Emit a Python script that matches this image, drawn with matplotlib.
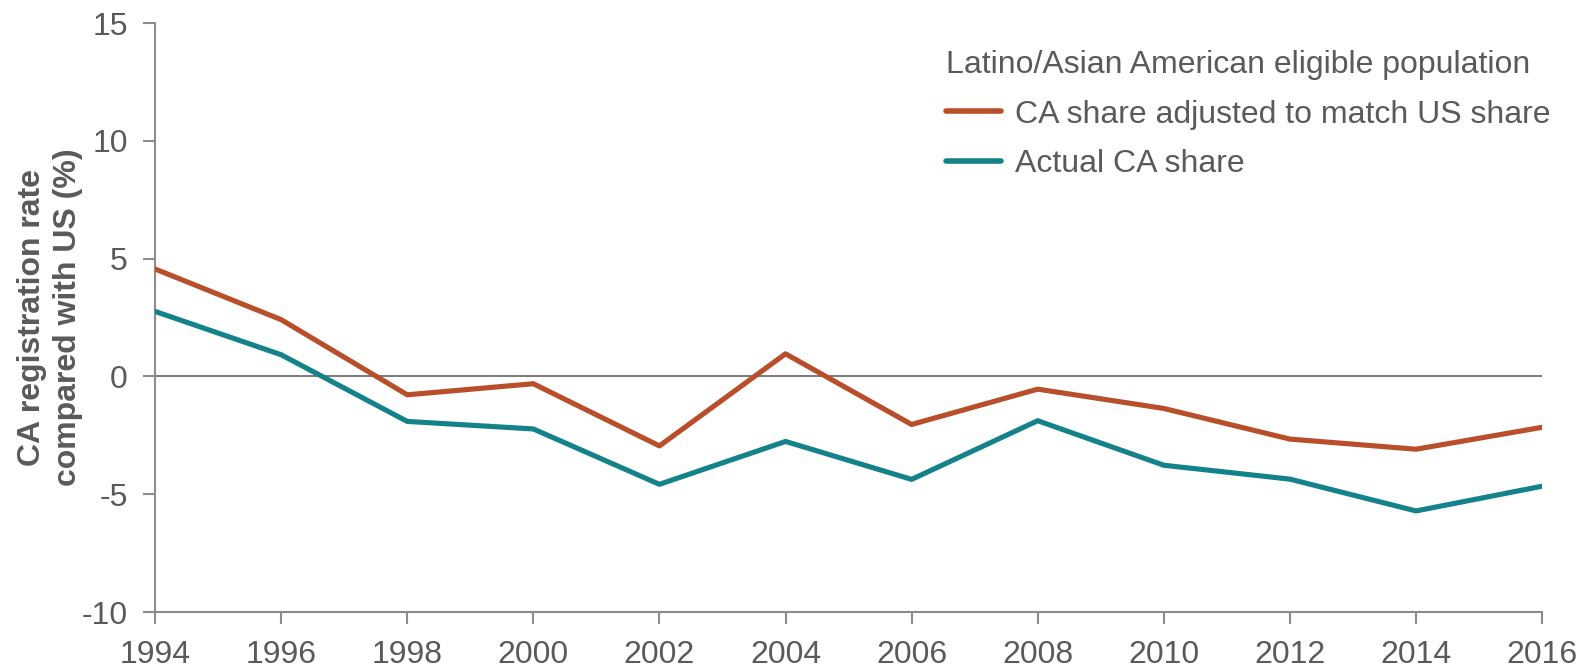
import matplotlib.pyplot as plt
import numpy as np

plt.rcParams['font.family'] = ['Liberation Sans', 'DejaVu Sans']

years = [1994, 1996, 1998, 2000, 2002, 2004, 2006, 2008, 2010, 2012, 2014, 2016]
adjusted = [4.56, 2.41, -0.78, -0.31, -2.95, 0.96, -2.04, -0.54, -1.36, -2.66, -3.09, -2.16]
actual = [2.76, 0.92, -1.91, -2.23, -4.58, -2.76, -4.37, -1.88, -3.77, -4.36, -5.71, -4.66]
yticks = [-10, -5, 0, 5, 10, 15]

gray = '#5a5a5a'
axis_gray = '#8c8c8c'

fig = plt.figure(figsize=(15.87, 6.71), dpi=100)
ax = fig.add_axes([0.0977, 0.0879, 0.874, 0.8778])

ax.axhline(0, color='#7a7a7a', lw=1.4, zorder=1)
ax.plot(years, adjusted, color='#B84E2A', lw=3.7, label='CA share adjusted to match US share',
        zorder=3, solid_capstyle='round')
ax.plot(years, actual, color='#14828A', lw=3.7, label='Actual CA share',
        zorder=3, solid_capstyle='round')

ax.set_xlim(1994, 2016)
ax.set_ylim(-10, 15)
ax.set_xticks(years)
ax.set_yticks(yticks)
ax.set_yticklabels([str(v) for v in yticks])

for s in ['top', 'right']:
    ax.spines[s].set_visible(False)
for s in ['left', 'bottom']:
    ax.spines[s].set_color(axis_gray)
    ax.spines[s].set_linewidth(1.5)
ax.tick_params(axis='both', colors=axis_gray, length=8.5, width=1.5, labelsize=23, labelcolor=gray)
ax.tick_params(axis='y', pad=11)
ax.tick_params(axis='x', pad=12)

ax.set_ylabel('CA registration rate\ncompared with US (%)', fontsize=23, fontweight='bold',
              color=gray, linespacing=1.25)
ax.yaxis.set_label_coords(-0.0519, 0.5)

leg = ax.legend(title='Latino/Asian American eligible population', loc='upper left',
                bbox_to_anchor=(0.5705, 0.9546), frameon=False, fontsize=23, title_fontsize=23,
                handlelength=1.7, handletextpad=0.45, labelspacing=0.62, borderaxespad=0,
                borderpad=0)
leg._legend_box.align = 'left'
leg.get_title().set_color(gray)
for t in leg.get_texts():
    t.set_color(gray)
for h in leg.get_lines():
    h.set_linewidth(4)

fig.savefig('out.png', dpi=100)
